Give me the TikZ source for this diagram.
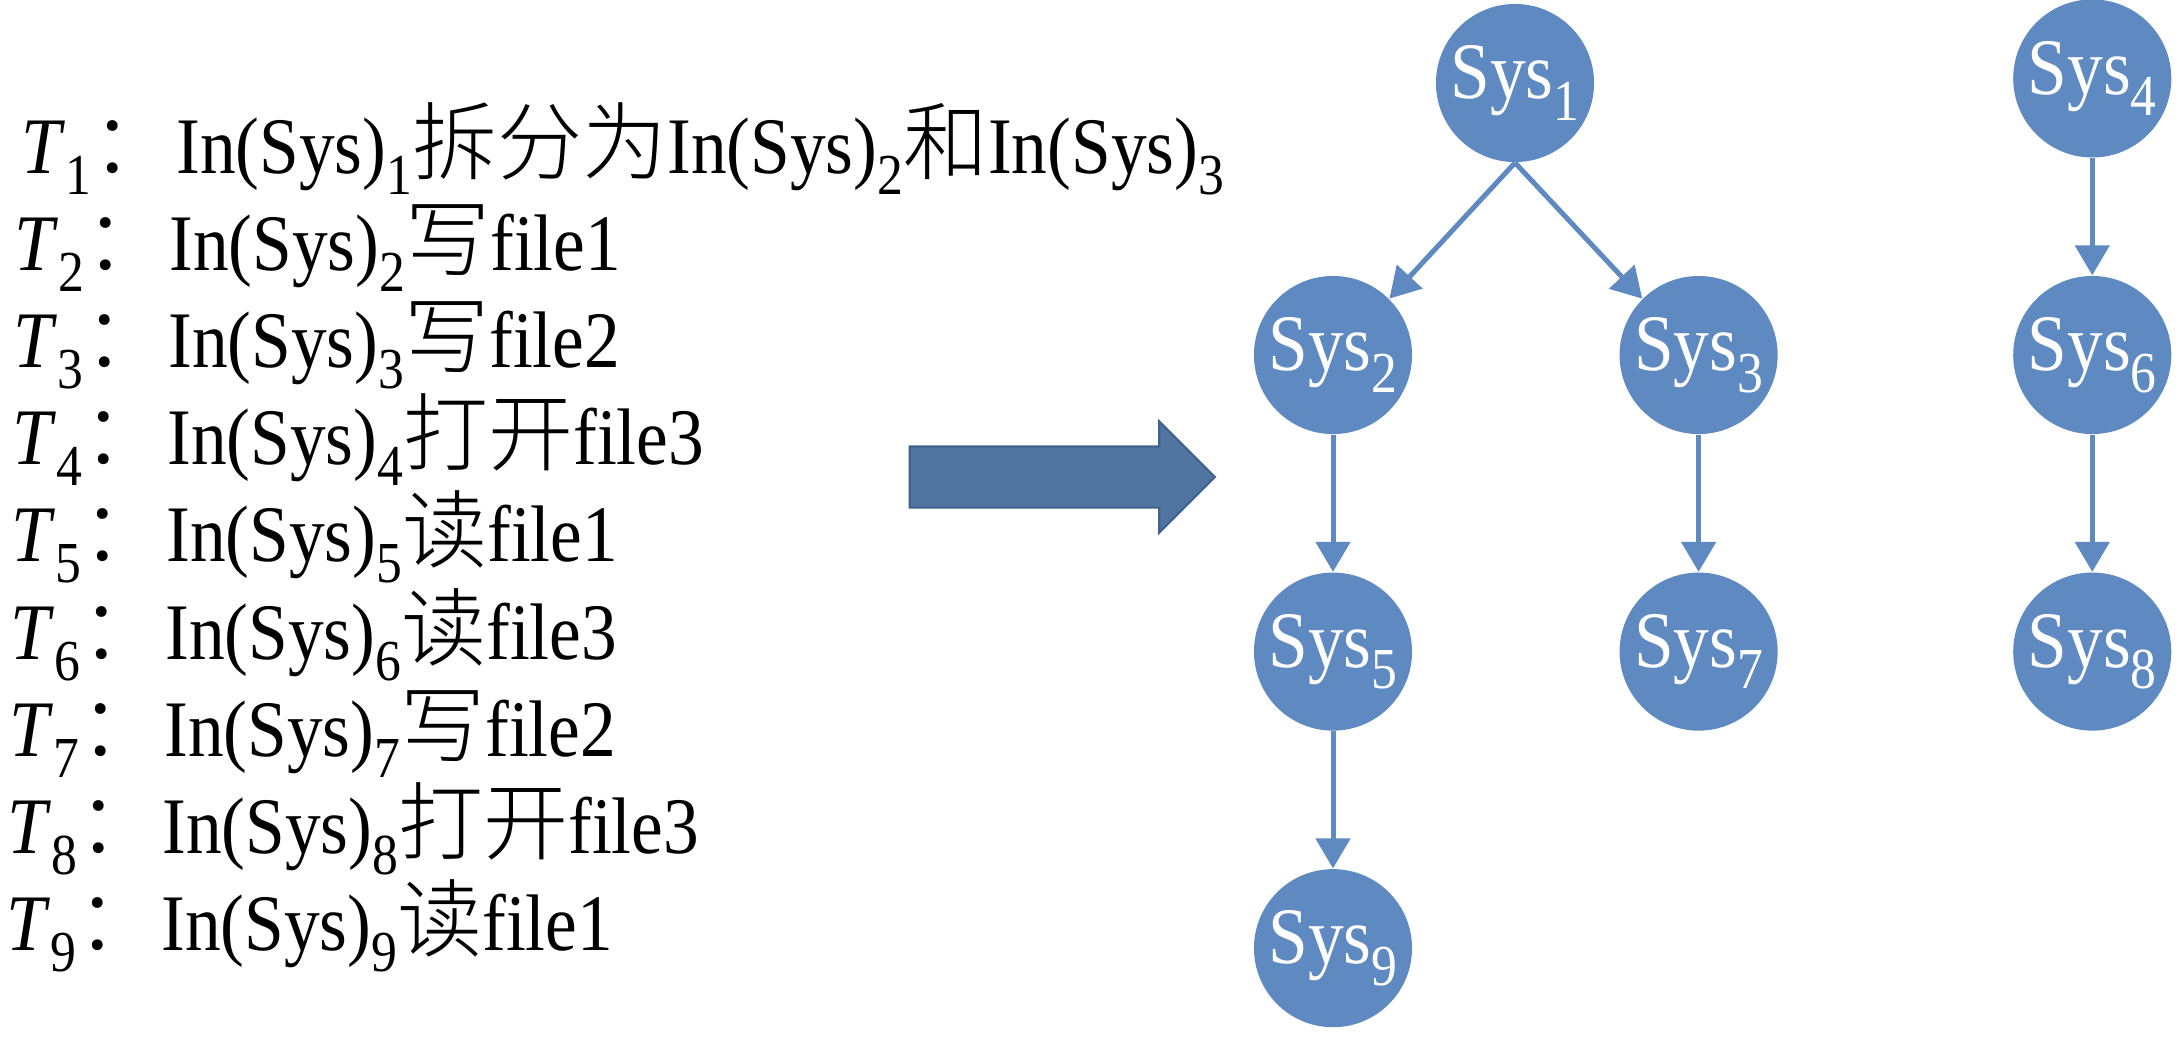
\documentclass[tikz,border=0pt]{standalone}
\usepackage{fontspec}
\setmainfont{Liberation Serif}[FakeStretch=0.89]
\newfontfamily\cjk{Noto Sans CJK SC}[UprightFont=* Light,Scale=1.06]
\usepackage{xcolor}
\definecolor{myblue}{RGB}{94,138,193}
\definecolor{mydarkblue}{RGB}{80,117,160}
\definecolor{myedge}{RGB}{66,98,140}
\newcommand{\lowsub}[1]{\raisebox{-0.27em}{\fontsize{16.5pt}{17pt}\selectfont #1}}
\usetikzlibrary{positioning,shapes.arrows,arrows.meta}

\begin{document}
\begin{tikzpicture}[x=0.01cm,y=-0.01cm,
    every node/.style={font=\fontsize{22.8pt}{27pt}\selectfont},
    taskline/.style={anchor=base west,inner sep=0},
    sysnode/.style={circle,fill=myblue,text=white,minimum size=1.58cm,inner sep=0},
    dep/.style={myblue,line width=0.05cm,-{Triangle[width=0.34cm,length=0.3cm]}},
    node distance=1.37cm]
    \useasboundingbox (0,0) rectangle (2184,1050);

    \node[taskline] (t1) at (21,173) {\textit{T}\lowsub{1}{\cjk ：}In(Sys)\lowsub{1}{\cjk 拆分为}In(Sys)\lowsub{2}{\cjk 和}In(Sys)\lowsub{3}};
    \node[taskline] (t2) at (14,270) {\textit{T}\lowsub{2}{\cjk ：}In(Sys)\lowsub{2}{\cjk 写}file1};
    \node[taskline] (t3) at (13,367) {\textit{T}\lowsub{3}{\cjk ：}In(Sys)\lowsub{3}{\cjk 写}file2};
    \node[taskline] (t4) at (12,464) {\textit{T}\lowsub{4}{\cjk ：}In(Sys)\lowsub{4}{\cjk 打开}file3};
    \node[taskline] (t5) at (11,561) {\textit{T}\lowsub{5}{\cjk ：}In(Sys)\lowsub{5}{\cjk 读}file1};
    \node[taskline] (t6) at (10,659) {\textit{T}\lowsub{6}{\cjk ：}In(Sys)\lowsub{6}{\cjk 读}file3};
    \node[taskline] (t7) at (9,756) {\textit{T}\lowsub{7}{\cjk ：}In(Sys)\lowsub{7}{\cjk 写}file2};
    \node[taskline] (t8) at (7,853) {\textit{T}\lowsub{8}{\cjk ：}In(Sys)\lowsub{8}{\cjk 打开}file3};
    \node[taskline] (t9) at (6,950) {\textit{T}\lowsub{9}{\cjk ：}In(Sys)\lowsub{9}{\cjk 读}file1};

    \node[single arrow,fill=mydarkblue,draw=myedge,line width=0.6pt,inner xsep=0,inner ysep=0.295cm,
        minimum height=3.05cm,single arrow head extend=0.25cm] (bigarrow) at (1047,477) {};

    \node[sysnode] (sys2) at (1333,355) {Sys\lowsub{2}};
    \node[sysnode,right=2.06cm of sys2] (sys3) {Sys\lowsub{3}};
    \node[sysnode,right=2.34cm of sys3] (sys6) {Sys\lowsub{6}};
    \node[sysnode] (sys1) at (1515,83) {Sys\lowsub{1}};
    \node[sysnode,above=1.17cm of sys6] (sys4) {Sys\lowsub{4}};
    \node[sysnode,below=of sys2] (sys5) {Sys\lowsub{5}};
    \node[sysnode,below=of sys5] (sys9) {Sys\lowsub{9}};
    \node[sysnode,below=of sys3] (sys7) {Sys\lowsub{7}};
    \node[sysnode,below=of sys6] (sys8) {Sys\lowsub{8}};

    \draw[dep] (sys1.south) -- (sys2.north east);
    \draw[dep] (sys1.south) -- (sys3.north west);
    \draw[dep] (sys2) -- (sys5);
    \draw[dep] (sys5) -- (sys9);
    \draw[dep] (sys3) -- (sys7);
    \draw[dep] (sys4) -- (sys6);
    \draw[dep] (sys6) -- (sys8);
\end{tikzpicture}
\end{document}
